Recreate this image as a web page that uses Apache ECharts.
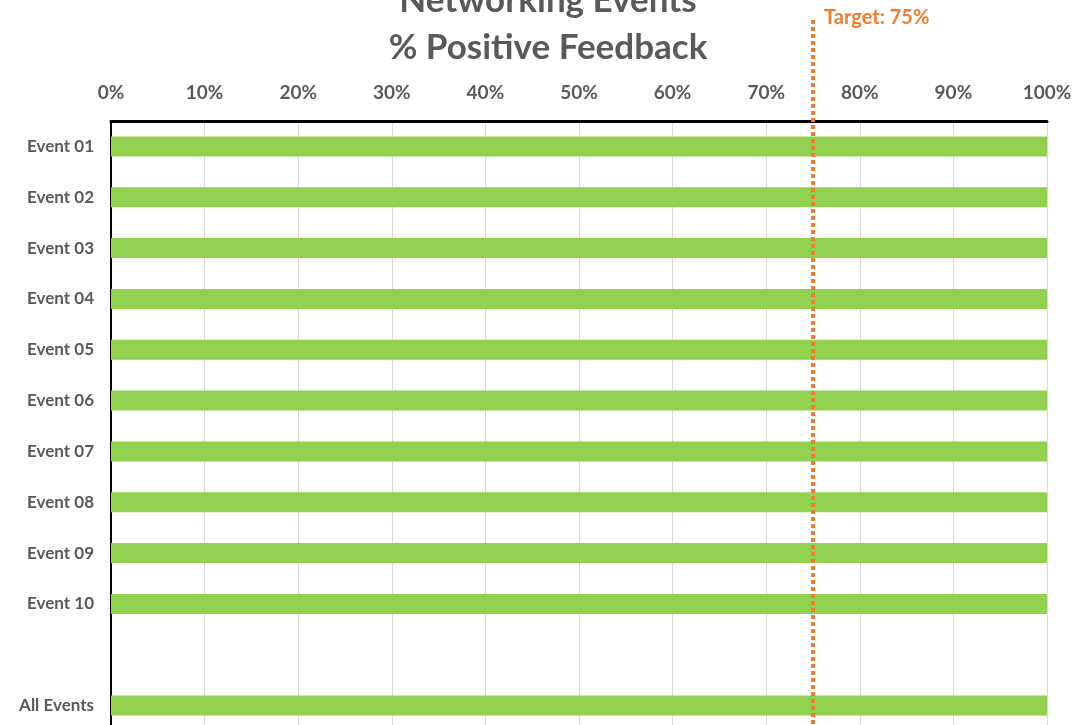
<!DOCTYPE html>
<html>
<head>
<meta charset="utf-8">
<script src="https://cdn.jsdelivr.net/npm/echarts@6/dist/echarts.min.js"></script>
<style>html,body{margin:0;padding:0;background:#fff}#c{width:1074px;height:725px}</style>
</head>
<body>
<div id="c"></div>
<script>
const categories = ['Event 01','Event 02','Event 03','Event 04','Event 05','Event 06','Event 07','Event 08','Event 09','Event 10','','All Events'];
const positiveFeedback = [100,100,100,100,100,100,100,100,100,100,'-',100];
const xTicks = [0,10,20,30,40,50,60,70,80,90,100];
const target = 75;
const targetLabel = 'Target: 75%';

const FONT = 'Lato';
const chart = echarts.init(document.getElementById('c'));
chart.setOption({
  animation: false,
  backgroundColor: '#fff',
  title: {
    text: 'Networking Events\n% Positive Feedback',
    left: 543,
    textAlign: 'center',
    top: -28,
    textStyle: {fontFamily: FONT, fontWeight: 'bold', fontSize: 35, color: '#595959', lineHeight: 47}
  },
  grid: [
    {left: 111, right: 27, top: 121, height: 610, containLabel: false, outerBoundsMode: 'none'},
    {left: 111, right: 27, top: 17, height: 714, containLabel: false, outerBoundsMode: 'none'}
  ],
  xAxis: [
    {
      gridIndex: 0, type: 'value', position: 'top', min: xTicks[0], max: xTicks[xTicks.length - 1], interval: 10,
      axisLine: {show: true, lineStyle: {color: '#000', width: 3}},
      axisTick: {show: false},
      axisLabel: {formatter: '{value}%', fontFamily: FONT, fontWeight: 'bold', fontSize: 19, color: '#595959', margin: 19},
      splitLine: {show: true, lineStyle: {color: '#d9d9d9', width: 1}}
    },
    {gridIndex: 1, type: 'value', min: 0, max: 100, show: false}
  ],
  yAxis: [
    {
      gridIndex: 0, type: 'category', data: categories, inverse: true,
      axisLine: {show: true, lineStyle: {color: '#000', width: 2}},
      axisTick: {show: false},
      axisLabel: {fontFamily: FONT, fontWeight: 'bold', fontSize: 17, color: '#595959', margin: 17},
      splitLine: {show: false}
    },
    {gridIndex: 1, type: 'value', min: 0, max: 1, show: false}
  ],
  series: [
    {
      type: 'bar', xAxisIndex: 0, yAxisIndex: 0, data: positiveFeedback,
      barWidth: 20, itemStyle: {color: '#92D050'}, z: 2
    },
    {
      type: 'line', xAxisIndex: 1, yAxisIndex: 1, symbol: 'circle', symbolSize: 0, showSymbol: true, z: 5,
      lineStyle: {color: '#ED7D31', width: 4, type: [4, 3]},
      data: [
        {value: [target, 0]},
        {value: [target, 1], label: {show: true, position: 'right', formatter: targetLabel, offset: [6, 1],
          fontFamily: FONT, fontWeight: 'bold', fontSize: 20, color: '#ED7D31'}}
      ]
    }
  ]
});
</script>
</body>
</html>
